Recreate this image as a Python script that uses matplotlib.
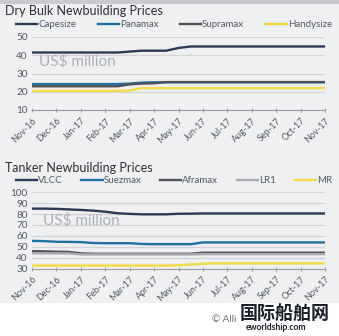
import numpy as np
import matplotlib
matplotlib.use("Agg")
import matplotlib.pyplot as plt
from matplotlib.patches import Rectangle

plt.rcParams['font.family'] = ['Lato', 'DejaVu Sans']

# Month tick labels (Nov-16 .. Nov-17); data sampled twice a month
months = ["Nov-16", "Dec-16", "Jan-17", "Feb-17", "Mar-17", "Apr-17", "May-17",
          "Jun-17", "Jul-17", "Aug-17", "Sep-17", "Oct-17", "Nov-17"]
t = np.arange(25) / 2.0  # month index of each sample

# Dry bulk newbuilding prices, US$ million
capesize = [41.5, 41.5, 41.5, 41.5, 41.5, 41.5, 41.5, 41.5, 42.0, 42.5, 42.5, 42.5, 44.0,
            44.8, 44.8, 44.8, 44.8, 44.8, 44.8, 44.8, 44.8, 44.8, 44.8, 44.8, 44.8]
panamax = [24.2, 24.2, 24.2, 24.2, 24.2, 24.2, 24.2, 24.2, 24.5, 25.0, 25.2, 25.2, 25.2,
           25.2, 25.2, 25.2, 25.2, 25.2, 25.2, 25.2, 25.2, 25.2, 25.2, 25.2, 25.2]
supramax = [23.0, 23.0, 23.0, 23.0, 23.0, 23.0, 23.0, 23.0, 24.0, 24.5, 24.6, 25.3, 25.3,
            25.3, 25.3, 25.3, 25.3, 25.3, 25.3, 25.3, 25.3, 25.3, 25.3, 25.3, 25.3]
handysize = [20.5, 20.5, 20.5, 20.5, 20.5, 20.5, 20.5, 20.5, 20.7, 22.0, 22.0, 22.0, 22.0,
             22.0, 22.0, 22.0, 22.0, 22.0, 22.0, 22.0, 22.0, 22.0, 22.0, 22.0, 22.0]

# Tanker newbuilding prices, US$ million
vlcc = [85.0, 85.0, 84.8, 84.3, 83.8, 83.2, 82.2, 80.8, 80.2, 79.8, 79.8, 79.8, 80.3,
        80.4, 80.6, 80.6, 80.6, 80.6, 80.6, 80.6, 80.6, 80.6, 80.6, 80.6, 80.6]
suezmax = [55.4, 55.2, 54.6, 54.5, 54.3, 53.5, 53.3, 53.3, 53.3, 52.6, 52.4, 52.4, 52.4,
           52.4, 54.0, 54.0, 54.0, 54.0, 54.0, 54.0, 54.0, 54.0, 54.0, 54.0, 54.0]
aframax = [46.0, 45.8, 45.5, 45.3, 44.0, 43.6, 43.6, 43.6, 43.6, 43.6, 43.6, 43.6, 43.6,
           43.6, 44.6, 44.6, 44.6, 44.6, 44.6, 44.6, 44.6, 44.6, 44.6, 44.6, 44.6]
lr1 = [44.0, 44.0, 44.0, 44.0, 43.0, 43.0, 43.0, 43.0, 43.0, 43.0, 43.0, 43.0, 43.0,
       43.0, 43.3, 43.3, 43.3, 43.3, 43.3, 43.3, 43.3, 43.3, 43.3, 43.3, 43.3]
mr = [32.8, 32.8, 32.8, 32.8, 32.8, 32.8, 32.8, 32.8, 32.8, 32.8, 32.8, 32.8, 33.0,
      33.8, 34.5, 34.8, 34.8, 34.8, 34.8, 34.8, 34.8, 34.8, 34.8, 34.8, 34.8]

NAVY = "#2b3a57"
BLUE = "#22729f"
DARK = "#505256"
LGRAY = "#a9abae"
YELLOW = "#f4d948"
TXT = "#555a60"
BG = "#eff0f2"

fig = plt.figure(figsize=(3.39, 3.36), dpi=100)
fig.patch.set_facecolor("white")
# panel background and top shade
fig.add_artist(Rectangle((0, 1 - 303 / 336), 1, 303 / 336, transform=fig.transFigure,
                         facecolor=BG, edgecolor="none", zorder=-10))
fig.add_artist(Rectangle((0, 1 - 4 / 336), 1, 4 / 336, transform=fig.transFigure,
                         facecolor="#c9cbce", edgecolor="none", zorder=-9))


def style_axes(ax, ylo, yhi, step):
    ax.set_facecolor(BG)
    ax.set_xlim(0, 12)
    ax.set_ylim(ylo, yhi)
    ax.set_yticks(np.arange(ylo, yhi + 0.1, step))
    ax.set_xticks(np.arange(13))
    ax.set_xticklabels(months, rotation=45, ha="right", rotation_mode="anchor",
                       fontsize=6.5, color=TXT)
    ax.tick_params(axis="y", length=0, labelsize=7.2, labelcolor=TXT, pad=3)
    ax.tick_params(axis="x", length=3, direction="inout", color="#9a9da1", width=0.8, pad=3)
    for s in ["top", "right", "left"]:
        ax.spines[s].set_visible(False)
    ax.spines["bottom"].set_color("#9a9da1")
    ax.spines["bottom"].set_linewidth(0.8)
    ax.grid(axis="y", color="#d2d4d7", linewidth=0.9)
    ax.set_axisbelow(True)


# Dry bulk panel
ax1 = fig.add_axes([32 / 339, 1 - 110 / 336, 293 / 339, 73 / 336])
style_axes(ax1, 10, 50, 10)
ax1.plot(t, capesize, color=NAVY, lw=1.7, label="Capesize")
ax1.plot(t, panamax, color=BLUE, lw=1.7, label="Panamax")
ax1.plot(t, supramax, color=DARK, lw=1.7, label="Supramax")
ax1.plot(t, handysize, color=YELLOW, lw=1.7, label="Handysize")
ax1.text(0.3, 36.5, "US$ million", fontsize=11, color="#aeb1b5", va="center")
fig.text(5 / 339, 1 - 11 / 336, "Dry Bulk Newbuilding Prices", fontsize=9.0,
         color="#2e3033", va="center", ha="left")
fig.legend(*ax1.get_legend_handles_labels(), loc="center left",
           bbox_to_anchor=(16 / 339, 1 - 25 / 336, 316 / 339, 0.001), mode="expand",
           ncol=4, frameon=False, fontsize=7, labelcolor=TXT, handlelength=2.2,
           handletextpad=0.1, borderaxespad=0, borderpad=0)

# Tanker panel
ax2 = fig.add_axes([32 / 339, 1 - 268.6 / 336, 293 / 339, 76.3 / 336])
style_axes(ax2, 30, 100, 10)
ax2.plot(t, vlcc, color=NAVY, lw=1.7, label="VLCC")
ax2.plot(t, suezmax, color=BLUE, lw=1.7, label="Suezmax")
ax2.plot(t, aframax, color=DARK, lw=1.7, label="Aframax")
ax2.plot(t, lr1, color=LGRAY, lw=1.7, label="LR1")
ax2.plot(t, mr, color=YELLOW, lw=1.7, label="MR")
ax2.text(0.45, 74, "US$ million", fontsize=11, color="#aeb1b5", va="center")
fig.text(5 / 339, 1 - 168 / 336, "Tanker Newbuilding Prices", fontsize=9.0,
         color="#2e3033", va="center", ha="left")
fig.legend(*ax2.get_legend_handles_labels(), loc="center left",
           bbox_to_anchor=(16 / 339, 1 - 181 / 336, 316 / 339, 0.001), mode="expand",
           ncol=5, frameon=False, fontsize=7, labelcolor=TXT, handlelength=2.2,
           handletextpad=0.1, borderaxespad=0, borderpad=0)

# Footer
fig.text(236 / 339, 1 - 319 / 336, "© Alli", fontsize=7, color="#6a6d72",
         va="center", ha="right")
fig.text(240 / 339, 1 - 314 / 336, "国际船舶网", fontsize=13, fontweight="bold",
         family=["Noto Sans CJK SC", "DejaVu Sans"], color="#1b1f2a", va="center")
fig.text(246 / 339, 1 - 328 / 336, "eworldship.com", fontsize=6.2, fontweight="bold",
         color="#1b1f2a", va="center")

fig.savefig("out.png", dpi=100, facecolor=fig.get_facecolor())
